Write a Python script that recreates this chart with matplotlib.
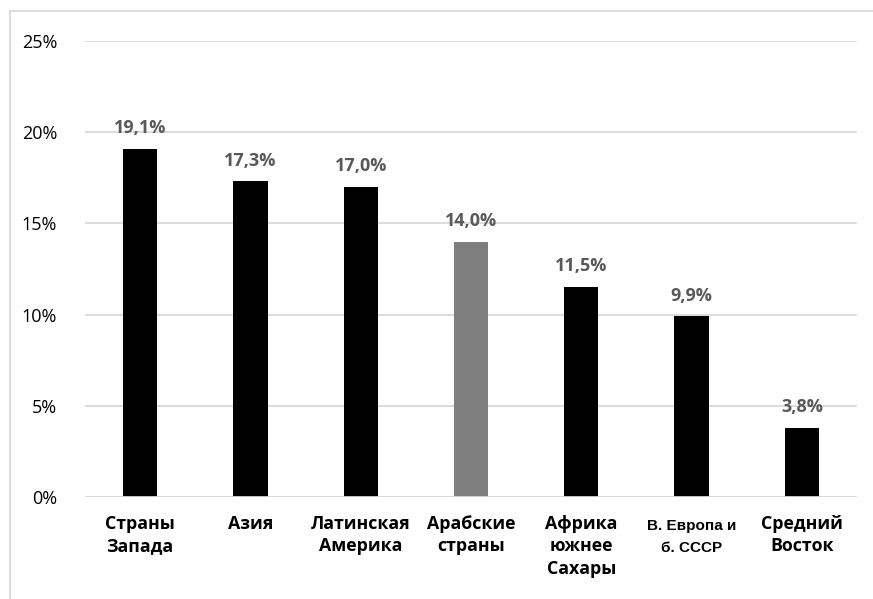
import matplotlib.pyplot as plt
from matplotlib.lines import Line2D

# data
regions = ['Страны\nЗапада', 'Азия', 'Латинская\nАмерика', 'Арабские\nстраны',
           'Африка\nюжнее\nСахары', 'В. Европа и\nб. СССР', 'Средний\nВосток']
values = [19.1, 17.3, 17.0, 14.0, 11.5, 9.9, 3.8]
colors = ['#000000', '#000000', '#000000', '#7f7f7f', '#000000', '#000000', '#000000']
yticks = [0, 5, 10, 15, 20, 25]

plt.rcParams['font.family'] = ['Open Sans', 'DejaVu Sans']

fig = plt.figure(figsize=(8.73, 5.99), dpi=100)
ax = fig.add_axes([85 / 873, 1 - 497 / 599, (857 - 85) / 873, (497 - 41) / 599])

x = range(len(values))
ax.bar(x, values, width=0.31, color=colors, zorder=3)

for i, v in enumerate(values):
    ax.text(i, v + 0.65, ('%.1f%%' % v).replace('.', ','), ha='center', va='bottom',
            fontsize=13, fontweight='bold', color='#595959')

ax.set_xlim(-0.5, len(values) - 0.5)
ax.set_ylim(0, 25)
ax.set_yticks(yticks)
ax.set_yticklabels(['%d%%' % t for t in yticks], fontsize=13, color='#000000')
ax.set_xticks(list(x))
ax.set_xticklabels([])
for i, lab in enumerate(regions):
    if i == 5:
        ax.text(i, -1.2, lab, ha='center', va='top', fontsize=11, fontweight='bold',
                family=['Liberation Sans', 'DejaVu Sans'], linespacing=1.75)
    else:
        ax.text(i, -1.0, lab, ha='center', va='top', fontsize=12.8, fontweight='bold',
                linespacing=1.3)

ax.tick_params(axis='both', length=0)
ax.tick_params(axis='y', pad=20)
ax.grid(axis='y', color='#d9d9d9', linewidth=1.3, zorder=0)
for s in ax.spines.values():
    s.set_visible(False)
ax.axhline(0, color='#d9d9d9', linewidth=1.3, zorder=4)

# chart frame (cut at right and bottom)
fig.add_artist(Line2D([10 / 873, 10 / 873], [0, 1 - 11 / 599], color='#d9d9d9', linewidth=1.3))
fig.add_artist(Line2D([10 / 873, 1], [1 - 11 / 599, 1 - 11 / 599], color='#d9d9d9', linewidth=1.3))

plt.savefig('out.png', dpi=100)
